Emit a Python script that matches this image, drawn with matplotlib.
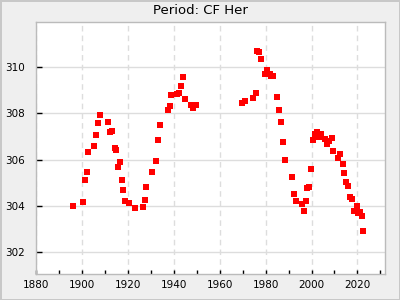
import numpy as np
import matplotlib
matplotlib.use('Agg')
import matplotlib.pyplot as plt
from matplotlib.ticker import MultipleLocator

# observed periods of CF Her (year, period)
years = [1896.3, 1900.6, 1901.5, 1902.4, 1902.8, 1905.4, 1906.3, 1907.1, 1908.0,
         1911.5, 1912.4, 1913.3, 1914.2, 1915.0, 1916.8, 1915.9, 1917.6, 1918.0,
         1918.9, 1920.7, 1923.3, 1926.8, 1927.6, 1928.1, 1930.7, 1932.4, 1933.3,
         1934.2, 1937.6, 1938.5, 1939.0, 1941.6, 1942.4, 1943.3, 1944.2, 1945.1,
         1947.7, 1948.5, 1949.8,
         1969.9, 1971.2, 1974.7, 1975.6, 1976.4, 1977.3, 1978.2, 1979.9, 1980.8,
         1981.7, 1982.5, 1983.4, 1985.1, 1986.0, 1986.9, 1987.7, 1988.6, 1991.7,
         1992.5, 1993.4, 1996.0, 1996.9, 1997.7, 1998.2, 1999.1, 1999.9, 2000.8,
         2001.7, 2002.6, 2003.4, 2004.3, 2006.0, 2006.9, 2007.8, 2008.7, 2009.5,
         2011.7, 2012.6, 2013.5, 2014.3, 2015.2, 2016.1, 2016.9, 2017.8, 2018.7,
         2019.6, 2020.4, 2021.3, 2022.2, 2022.6]
periods = [303.99, 304.16, 305.11, 305.45, 306.32, 306.58, 307.05, 307.57, 307.92,
           307.61, 307.18, 307.22, 306.49, 306.40, 305.89, 305.67, 305.11, 304.68,
           304.20, 304.12, 303.90, 303.94, 304.25, 304.81, 305.45, 305.93, 306.84,
           307.48, 308.13, 308.30, 308.78, 308.82, 308.87, 309.17, 309.56, 308.61,
           308.35, 308.22, 308.35,
           308.43, 308.52, 308.65, 308.87, 310.68, 310.64, 310.33, 309.69, 309.86,
           309.69, 309.60, 309.60, 308.69, 308.13, 307.61, 306.75, 305.97, 305.24,
           304.50, 304.20, 304.07, 303.77, 304.20, 304.76, 304.81, 305.58, 306.84,
           307.10, 307.18, 306.97, 307.10, 306.88, 306.66, 306.79, 306.92, 306.36,
           306.06, 306.23, 305.80, 305.41, 305.02, 304.85, 304.37, 304.29, 303.77,
           303.99, 303.68, 303.73, 303.55, 302.91]
title = 'Period: CF Her'

fig = plt.figure(figsize=(4, 3), dpi=100, facecolor='#efefef',
                 edgecolor='#c8c8c8', linewidth=2)
ax = fig.add_axes([36/400, 1 - 274/300, (385-36)/400, (274-22)/300])
ax.set_facecolor('white')

ax.scatter(years, periods, marker='s', s=22, color='#ff0000', linewidths=0, zorder=3)

ax.set_xlim(1880, 2032)
ax.set_ylim(301.06, 311.94)
ax.xaxis.set_major_locator(MultipleLocator(20))
ax.xaxis.set_minor_locator(MultipleLocator(10))
ax.yaxis.set_major_locator(MultipleLocator(2))

ax.grid(axis='x', which='major', color='#dddddd', linestyle=(0, (4, 3)), linewidth=1)
ax.grid(axis='y', which='major', color='#dddddd', linestyle='-', linewidth=1)
ax.set_axisbelow(True)

for s in ax.spines.values():
    s.set_color('#bbbbbb')
    s.set_linewidth(1)

ax.tick_params(axis='x', which='both', direction='in', length=3, width=1,
               color='black', labelsize=7.5, pad=4)
ax.tick_params(axis='y', which='major', direction='in', length=4, width=1,
               color='black', labelsize=7.5, pad=8)
ax.tick_params(axis='y', which='minor', left=False)

fig.text(0.5, 1 - 11/300, title, ha='center', va='center', fontsize=9.5)

fig.savefig('out.png', dpi=100, facecolor=fig.get_facecolor(),
            edgecolor=fig.get_edgecolor())
